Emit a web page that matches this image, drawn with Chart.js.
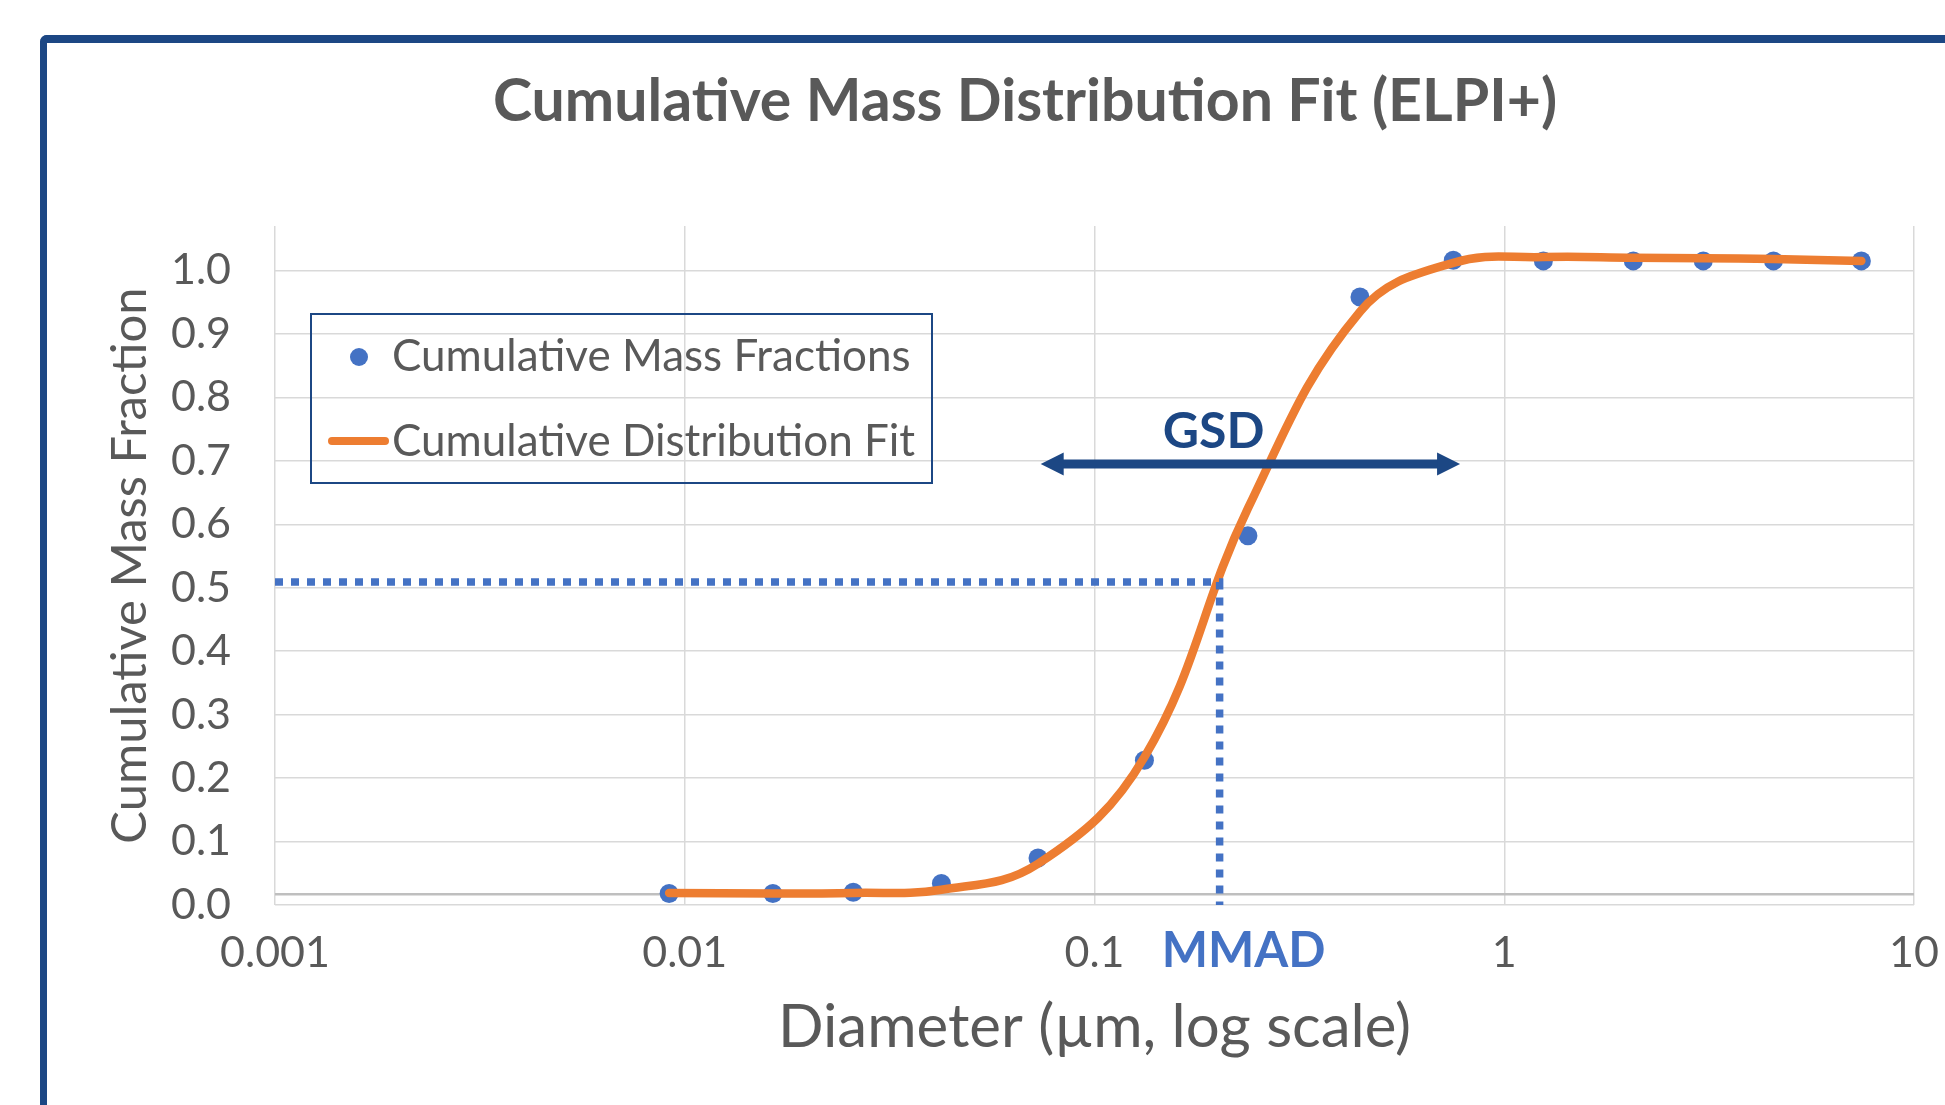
<!DOCTYPE html>
<html>
<head>
<meta charset="utf-8">
<title>Cumulative Mass Distribution Fit (ELPI+)</title>
<script src="https://cdn.jsdelivr.net/npm/chart.js@4/dist/chart.umd.min.js"></script>
<style>
  html, body { margin: 0; padding: 0; background: #fff; overflow: hidden; }
  #frame {
    position: absolute; left: 40px; top: 35px; width: 2000px; height: 1200px;
    border-top: 8px solid #1C4784; border-left: 7px solid #1C4784;
    border-top-left-radius: 7px;
  }
  #wrap { position: absolute; left: 0; top: 0; width: 1945px; height: 1105px; }
</style>
</head>
<body>
<div id="frame"></div>
<div id="wrap"><canvas id="chart" width="1945" height="1105"></canvas></div>
<script>
//---------- data
const diameters = [0.00916, 0.01641, 0.02578, 0.0423, 0.0728, 0.1324, 0.2368, 0.4445, 0.751, 1.246, 2.065, 3.06, 4.54, 7.44]
const massFractions = [0.018, 0.018, 0.020, 0.034, 0.074, 0.228, 0.582, 0.958, 1.016, 1.015, 1.015, 1.015, 1.015, 1.015]
const fitValues = [0.019, 0.018, 0.019, 0.024, 0.065, 0.233, 0.625, 0.935, 1.012, 1.021, 1.020, 1.019, 1.018, 1.015]

const xTicks = [0.001, 0.01, 0.1, 1, 10]
const xTickLabels = ['0.001', '0.01', '0.1', '1', '10']
const yTicks = [0, 0.1, 0.2, 0.3, 0.4, 0.5, 0.6, 0.7, 0.8, 0.9, 1.0]
const yMax = 1.07

const mmad = 0.202
const mmadFraction = 0.509
const gsdRange = [0.0739, 0.780]
const gsdLevel = 0.695
const axisCross = 0.017

const seriesNames = ['Cumulative Mass Fractions', 'Cumulative Distribution Fit']

//---------- colours / fonts
const GRAY_TEXT = '#595959'
const BLUE = '#4472C4'
const ORANGE = '#ED7D31'
const NAVY = '#1C4784'
const FONT = 'Lato, "Open Sans", sans-serif'

let points = diameters.map((d, i) => ({x: d, y: massFractions[i]}))
let fit = diameters.map((d, i) => ({x: d, y: fitValues[i]}))
let mmadGuide = [
  {x: xTicks[0], y: mmadFraction},
  {x: mmad, y: mmadFraction},
  {x: mmad, y: 0}
]

// gray horizontal axis line that sits just above 0
const axisLinePlugin = {
  id: 'axisLine',
  beforeDatasetsDraw(chart) {
    let ctx = chart.ctx, area = chart.chartArea
    let y = chart.scales.y.getPixelForValue(axisCross)
    ctx.save()
    ctx.strokeStyle = '#BFBFBF'
    ctx.lineWidth = 2.5
    ctx.beginPath()
    ctx.moveTo(area.left, y)
    ctx.lineTo(area.right, y)
    ctx.stroke()
    ctx.restore()
  }
}

// title, GSD arrow, labels and the boxed legend
const annotationsPlugin = {
  id: 'annotations',
  afterDatasetsDraw(chart) {
    let ctx = chart.ctx
    let xs = chart.scales.x, ys = chart.scales.y
    ctx.save()

    // title
    ctx.fillStyle = GRAY_TEXT
    ctx.font = 'bold 59px ' + FONT
    ctx.textAlign = 'center'
    ctx.textBaseline = 'alphabetic'
    ctx.fillText('Cumulative Mass Distribution Fit (ELPI+)', 1025, 121)

    // GSD double arrow
    let x1 = xs.getPixelForValue(gsdRange[0])
    let x2 = xs.getPixelForValue(gsdRange[1])
    let ya = ys.getPixelForValue(gsdLevel)
    let head = 23
    ctx.strokeStyle = NAVY
    ctx.fillStyle = NAVY
    ctx.lineWidth = 9
    ctx.beginPath()
    ctx.moveTo(x1 + head - 4, ya)
    ctx.lineTo(x2 - head + 4, ya)
    ctx.stroke()
    ctx.beginPath()
    ctx.moveTo(x1, ya)
    ctx.lineTo(x1 + head, ya - head / 2)
    ctx.lineTo(x1 + head, ya + head / 2)
    ctx.closePath()
    ctx.fill()
    ctx.beginPath()
    ctx.moveTo(x2, ya)
    ctx.lineTo(x2 - head, ya - head / 2)
    ctx.lineTo(x2 - head, ya + head / 2)
    ctx.closePath()
    ctx.fill()

    let xm = xs.getPixelForValue(mmad)
    ctx.font = 'bold 50px ' + FONT
    ctx.fillText('GSD', xm - 6, ya - 16)

    // MMAD label under the axis
    ctx.fillStyle = BLUE
    ctx.font = 'bold 49px ' + FONT
    ctx.fillText('MMAD', xm + 24, 967)

    // legend box
    ctx.strokeStyle = NAVY
    ctx.lineWidth = 2
    ctx.strokeRect(311, 314, 621, 169)
    ctx.fillStyle = BLUE
    ctx.beginPath()
    ctx.arc(359, 357, 9, 0, Math.PI * 2)
    ctx.fill()
    ctx.strokeStyle = ORANGE
    ctx.lineWidth = 8
    ctx.lineCap = 'round'
    ctx.beginPath()
    ctx.moveTo(332, 441)
    ctx.lineTo(385, 441)
    ctx.stroke()
    ctx.fillStyle = GRAY_TEXT
    ctx.font = '44px ' + FONT
    ctx.textAlign = 'left'
    ctx.fillText(seriesNames[0], 392, 371)
    ctx.fillText(seriesNames[1], 392, 456)

    ctx.restore()
  }
}

let ctx = document.getElementById('chart').getContext('2d')
let chart = new Chart(ctx, {
  type: 'scatter',
  data: {
    datasets: [
      {
        label: seriesNames[0],
        data: points,
        showLine: false,
        pointRadius: 9.5,
        pointBackgroundColor: BLUE,
        pointBorderWidth: 0,
        order: 3
      },
      {
        label: seriesNames[1],
        data: fit,
        showLine: true,
        borderColor: ORANGE,
        borderWidth: 8.5,
        borderCapStyle: 'round',
        tension: 0.4,
        pointRadius: 0,
        order: 2
      },
      {
        label: 'MMAD',
        data: mmadGuide,
        showLine: true,
        borderColor: BLUE,
        borderWidth: 7.5,
        borderDash: [8, 8],
        borderCapStyle: 'butt',
        tension: 0,
        pointRadius: 0,
        order: 1
      }
    ]
  },
  options: {
    responsive: false,
    animation: false,
    events: [],
    layout: {padding: {left: 0, right: 31, top: 226, bottom: 0}},
    plugins: {
      legend: {display: false},
      tooltip: {enabled: false},
      title: {display: false}
    },
    scales: {
      x: {
        type: 'logarithmic',
        min: xTicks[0],
        max: xTicks[xTicks.length - 1],
        afterBuildTicks: scale => { scale.ticks = xTicks.map(v => ({value: v})) },
        afterFit: scale => {
          scale.height = 200
          // let the last label hang over the plot edge like the original
          scale.paddingLeft = 0
          scale.paddingRight = 0
        },
        grid: {color: '#D9D9D9', lineWidth: 1.5, drawTicks: false},
        border: {display: false},
        ticks: {
          autoSkip: false,
          maxRotation: 0,
          padding: 22,
          color: GRAY_TEXT,
          font: {family: FONT, size: 43},
          callback: (v, i) => xTickLabels[i]
        },
        title: {
          display: true,
          text: 'Diameter (µm, log scale)',
          color: GRAY_TEXT,
          font: {family: FONT, size: 60},
          padding: {top: 0, bottom: 41}
        }
      },
      y: {
        type: 'linear',
        min: 0,
        max: yMax,
        afterBuildTicks: scale => { scale.ticks = yTicks.map(v => ({value: v})) },
        afterFit: scale => { scale.width = 275 },
        grid: {color: '#D9D9D9', lineWidth: 1.5, drawTicks: false},
        border: {display: false},
        ticks: {
          padding: 44,
          color: GRAY_TEXT,
          font: {family: FONT, size: 43},
          callback: v => v.toFixed(1)
        },
        title: {
          display: true,
          text: 'Cumulative Mass Fraction',
          color: GRAY_TEXT,
          font: {family: FONT, size: 49},
          padding: {top: 101, bottom: 0}
        }
      }
    }
  },
  plugins: [axisLinePlugin, annotationsPlugin]
})
</script>
</body>
</html>
